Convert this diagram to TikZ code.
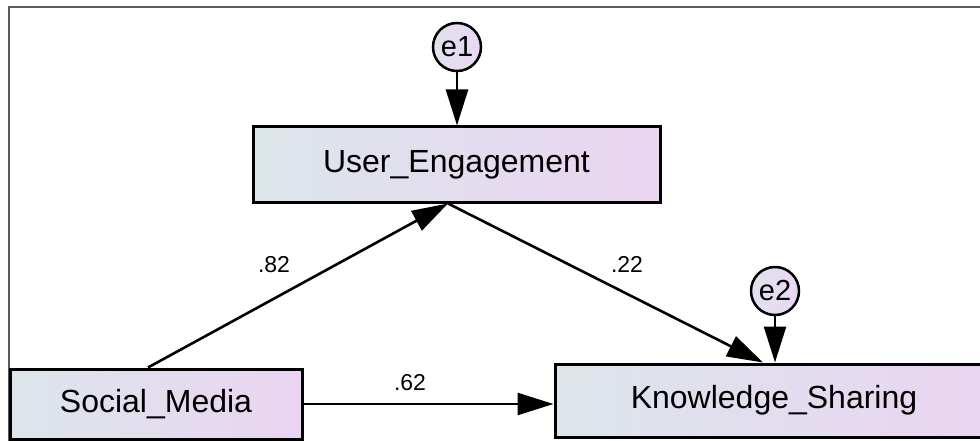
\documentclass[tikz,border=0pt]{standalone}
\usepackage{fontspec}
\setmainfont{Liberation Sans}
\usetikzlibrary{arrows.meta}
\definecolor{boxL}{HTML}{DCE6EA}
\definecolor{boxR}{HTML}{EAD4F2}
\definecolor{errL}{HTML}{E2E2EE}
\definecolor{errR}{HTML}{EAD6F2}
\definecolor{frameC}{HTML}{5A5A5A}
\begin{document}
\begin{tikzpicture}[x=1pt,y=-1pt,
  var/.style={draw=black, line width=3pt, left color=boxL, right color=boxR, inner sep=0pt, font=\fontsize{32}{32}\selectfont},
  err/.style={circle, draw=black, line width=2.5pt, left color=errL, right color=errR, minimum size=48pt, inner sep=0pt, font=\fontsize{29}{29}\selectfont},
  arr/.style={line width=2.6pt, -{Triangle[length=36pt,width=22pt]}},
  lbl/.style={font=\fontsize{23}{23}\selectfont, inner sep=0pt}]
\path[use as bounding box, clip] (0,0) rectangle (980,441);
\fill[white] (0,0) rectangle (980,441);
\draw[frameC, line width=1.2pt] (9,441) -- (9,7) -- (980,7);
\node[var, minimum width=407pt, minimum height=75pt] (UE) at (456.5,164.5) {User\_Engagement};
\node[var, minimum width=292pt, minimum height=70pt] (SM) at (156,404) {Social\_Media};
\node[var, minimum width=438pt, minimum height=73pt] (KS) at (774,400.5) {Knowledge\_Sharing};
\node[err] (e1) at (457,47) {e1};
\node[err] (e2) at (775,291) {e2};
\draw[arr] (e1.south) -- (e1.south |- UE.north);
\draw[arr] (e2.south) -- (e2.south |- KS.north);
\draw[arr] ([xshift=-8pt]SM.north) -- ([xshift=-8.5pt]UE.south);
\draw[arr] ([xshift=-8.5pt]UE.south) -- ([xshift=-11pt]KS.north);
\draw[arr] (SM.east) -- (SM.east -| KS.west);
\node[lbl] (l82) at (274,265) {.82};
\node[lbl] (l22) at (627,264) {.22};
\node[lbl] (l62) at (410,383) {.62};
\end{tikzpicture}
\end{document}
